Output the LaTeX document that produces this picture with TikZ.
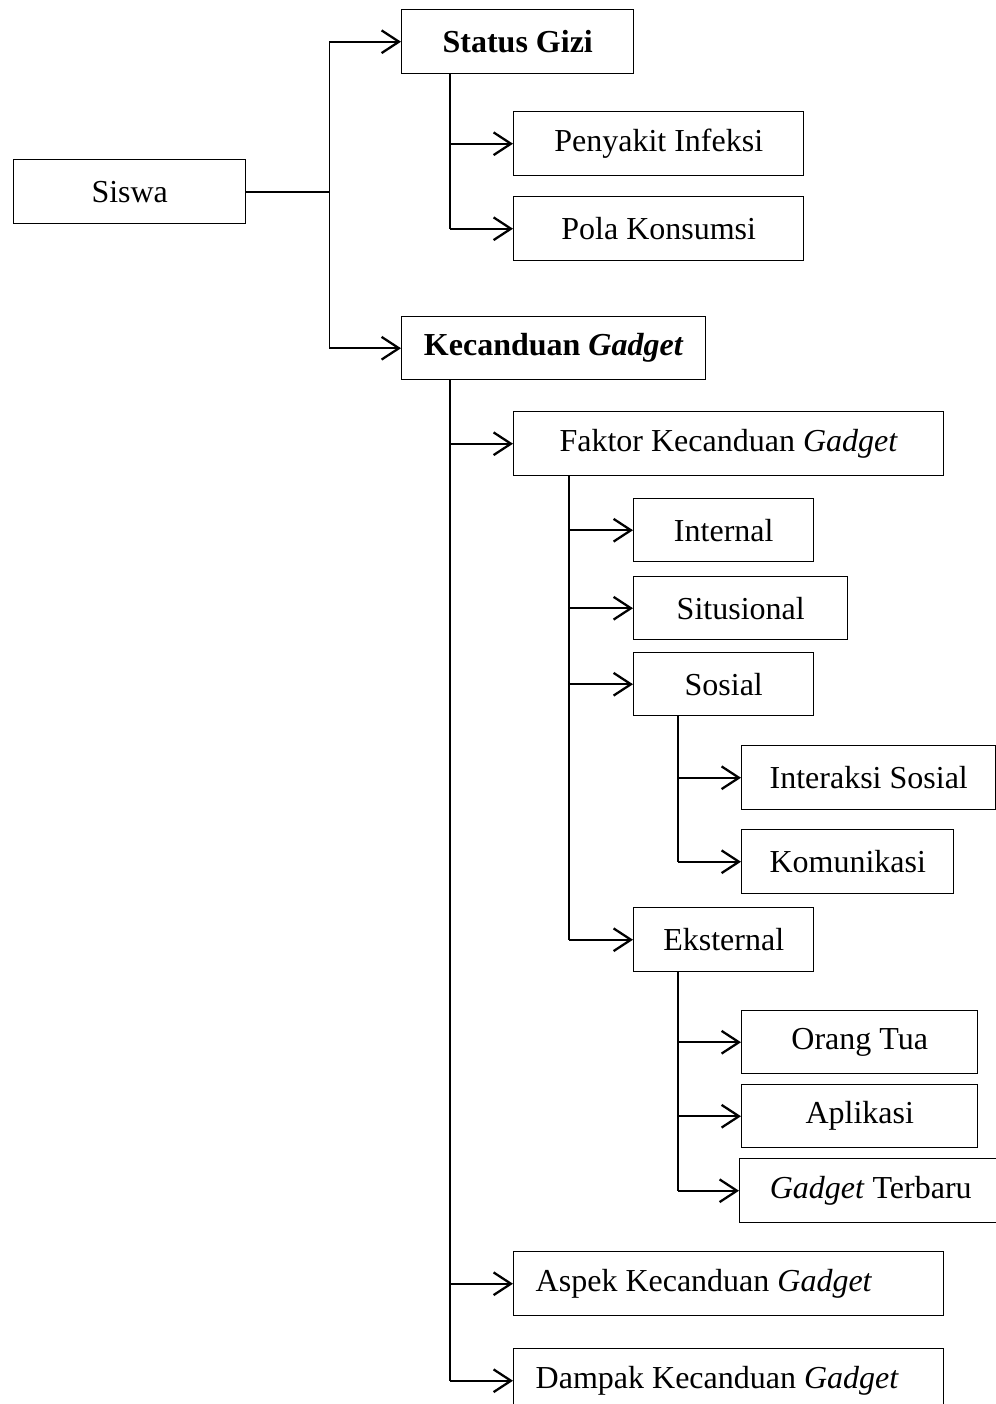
\documentclass[tikz,border=0pt]{standalone}
\usepackage{fontspec}
\setmainfont{Liberation Serif}
\usetikzlibrary{arrows.meta,calc}
\tikzset{
  box/.style={draw, line width=0.55pt, inner sep=0pt, anchor=north west, font=\fontsize{12}{14}\selectfont},
  leftbox/.style={box, minimum width=430*0.375pt, minimum height=64*0.375pt},
  ln/.style={line width=0.6pt},
  arr/.style={line width=0.85pt, -{Straight Barb[length=6.5pt,width=8.5pt,line width=0.85pt]}}
}
\newcommand\mybox[6]{\node[box, minimum width=#4*0.375pt, minimum height=#5*0.375pt] (#1) at (#2,#3) {#6};}
\newcommand\lefttext[1]{\makebox[144.75pt][l]{#1}}
\begin{document}
\begin{tikzpicture}[x=0.375pt,y=-0.375pt]
\useasboundingbox (0,0) rectangle (996,1404);
\clip (0,0) rectangle (996,1404);
% boxes
\mybox{sw}{13}{159}{232}{64}{Siswa}
\mybox{sg}{401}{9}{232}{64}{\textbf{Status Gizi}}
\mybox{pi}{513}{111}{290}{64}{Penyakit Infeksi}
\mybox{pk}{513}{196}{290}{64}{Pola Konsumsi}
\mybox{kg}{401}{316}{304}{63}{\textbf{Kecanduan \textit{Gadget}}}
\mybox{fk}{513}{411}{430}{64}{Faktor Kecanduan \textit{Gadget}}
\mybox{in}{633}{498}{180}{63}{Internal}
\mybox{si}{633}{576}{214}{63}{Situsional}
\mybox{so}{633}{652}{180}{63}{Sosial}
\mybox{is}{741}{745}{254}{64}{Interaksi Sosial}
\mybox{ko}{741}{829}{212}{64}{Komunikasi}
\mybox{ek}{633}{907}{180}{64}{Eksternal}
\mybox{ot}{741}{1010}{236}{63}{Orang Tua}
\mybox{ap}{741}{1084}{236}{63}{Aplikasi}
\mybox{gt}{739}{1158}{262}{64}{\textit{Gadget} Terbaru}
\node[leftbox] (as) at (513,1251) {\lefttext{Aspek Kecanduan \textit{Gadget}}};
\node[leftbox] (dk) at (513,1348) {\lefttext{Dampak Kecanduan \textit{Gadget}}};
% trunk from Siswa
\coordinate (tr) at ($(sw.east)+(83,0)$);
\draw[ln] (sw.east) -- (tr);
\draw[ln] (tr |- sg.west) -- (tr |- kg.west);
\draw[arr] (tr |- sg.west) -- (sg.west);
\draw[arr] (tr |- kg.west) -- (kg.west);
% Status Gizi children
\coordinate (s1) at ($(sg.south west)+(49,0)$);
\draw[ln] (s1) -- (s1 |- pk.west);
\draw[arr] (s1 |- pi.west) -- (pi.west);
\draw[arr] (s1 |- pk.west) -- (pk.west);
% Kecanduan Gadget children
\coordinate (s2) at ($(kg.south west)+(49,0)$);
\draw[ln] (s2) -- (s2 |- dk.west);
\draw[arr] (s2 |- fk.west) -- (fk.west);
\draw[arr] (s2 |- as.west) -- (as.west);
\draw[arr] (s2 |- dk.west) -- (dk.west);
% Faktor children
\coordinate (s3) at ($(fk.south west)+(56,0)$);
\draw[ln] (s3) -- (s3 |- ek.west);
\draw[arr] (s3 |- in.west) -- (in.west);
\draw[arr] (s3 |- si.west) -- (si.west);
\draw[arr] (s3 |- so.west) -- (so.west);
\draw[arr] (s3 |- ek.west) -- (ek.west);
% Sosial children
\coordinate (s4) at ($(so.south west)+(45,0)$);
\draw[ln] (s4) -- (s4 |- ko.west);
\draw[arr] (s4 |- is.west) -- (is.west);
\draw[arr] (s4 |- ko.west) -- (ko.west);
% Eksternal children
\coordinate (s5) at ($(ek.south west)+(45,0)$);
\draw[ln] (s5) -- (s5 |- gt.west);
\draw[arr] (s5 |- ot.west) -- (ot.west);
\draw[arr] (s5 |- ap.west) -- (ap.west);
\draw[arr] (s5 |- gt.west) -- (gt.west);
\end{tikzpicture}
\end{document}
